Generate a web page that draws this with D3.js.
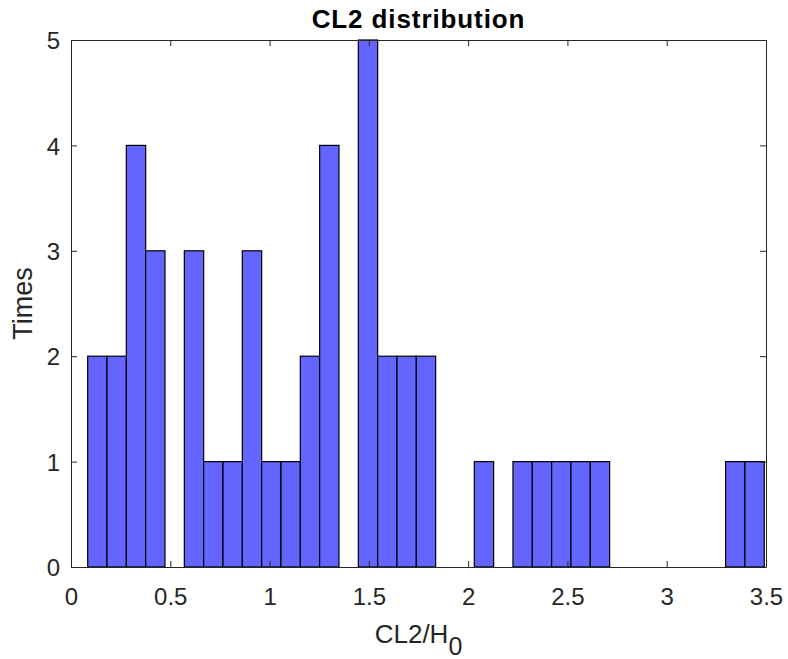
<!DOCTYPE html>
<html>
<head>
<meta charset="utf-8">
<script src="https://cdn.jsdelivr.net/npm/d3@7/dist/d3.min.js"></script>
<style>
  html, body { margin: 0; padding: 0; background: #fff; }
  svg { display: block; font-family: "Liberation Sans", Arial, Helvetica, sans-serif; }
</style>
</head>
<body>
<svg id="chart" width="788" height="659"></svg>
<script>
// ---- data ----
const titleText = "CL2 distribution";
const yLabelText = "Times";
const binStart = 0.084;
const binWidth = 0.09735;
const counts = [2, 2, 4, 3, 0, 3, 1, 1, 3, 1, 1, 2, 4, 0, 5, 2, 2, 2, 0, 0,
                1, 0, 1, 1, 1, 1, 1, 0, 0, 0, 0, 0, 0, 1, 1];
const xTicks = [0, 0.5, 1, 1.5, 2, 2.5, 3, 3.5];
const xTickLabels = ["0", "0.5", "1", "1.5", "2", "2.5", "3", "3.5"];
const yTicks = [0, 1, 2, 3, 4, 5];
const xDomain = [0, 3.5];
const yDomain = [0, 5];

(function () {
  // ---- layout ----
  const svg = d3.select("#chart");
  const L = 71, R = 766, T = 40, B = 567;
  const x = d3.scaleLinear().domain(xDomain).range([L, R]);
  const y = d3.scaleLinear().domain(yDomain).range([B, T]);
  const axisColor = "#262626";

  const bins = counts.map((c, i) => ({ x0: binStart + i * binWidth, x1: binStart + (i + 1) * binWidth, c }));

  // bars
  svg.append("g").selectAll("rect").data(bins.filter(d => d.c > 0)).join("rect")
    .attr("x", d => x(d.x0))
    .attr("y", d => y(d.c))
    .attr("width", d => x(d.x1) - x(d.x0))
    .attr("height", d => y(0) - y(d.c))
    .attr("fill", "#6464ff")
    .attr("stroke", "#000")
    .attr("stroke-width", 1.2);

  // axes (ticks inside, mirrored)
  const tl = 6;
  const gBottom = svg.append("g").attr("transform", `translate(0,${B})`)
    .call(d3.axisBottom(x).tickValues(xTicks).tickFormat((d, i) => xTickLabels[i]).tickSizeInner(-tl).tickSizeOuter(0).tickPadding(21));
  const gTop = svg.append("g").attr("transform", `translate(0,${T})`)
    .call(d3.axisTop(x).tickValues(xTicks).tickFormat("").tickSizeInner(-tl).tickSizeOuter(0));
  const gLeft = svg.append("g").attr("transform", `translate(${L},0)`)
    .call(d3.axisLeft(y).tickValues(yTicks).tickFormat(d3.format("d")).tickSizeInner(-tl).tickSizeOuter(0).tickPadding(11));
  const gRight = svg.append("g").attr("transform", `translate(${R},0)`)
    .call(d3.axisRight(y).tickValues(yTicks).tickFormat("").tickSizeInner(-tl).tickSizeOuter(0));

  [gBottom, gTop, gLeft, gRight].forEach(g => {
    g.select(".domain").attr("stroke", axisColor).attr("stroke-width", 1);
    g.selectAll(".tick line").attr("stroke", axisColor).attr("stroke-width", 1);
    g.selectAll(".tick text").attr("fill", axisColor).style("font-size", "24px")
      .style("font-family", "'Liberation Sans', Arial, sans-serif");
  });
  gLeft.selectAll(".tick text").attr("dy", "0.36em");

  // title
  svg.append("text").attr("x", (L + R) / 2).attr("y", 28)
    .attr("text-anchor", "middle").attr("font-weight", "bold")
    .attr("font-size", 26).attr("letter-spacing", 0.9).attr("fill", "#000").text(titleText);

  // x label with subscript
  const xl = svg.append("text").attr("x", (L + R) / 2).attr("y", 643)
    .attr("text-anchor", "middle").attr("font-size", 26).attr("fill", axisColor);
  xl.append("tspan").text("CL2/H");
  xl.append("tspan").attr("dy", 12).attr("font-size", 25).text("0");

  // y label
  svg.append("text").attr("transform", `translate(32,${(T + B) / 2}) rotate(-90)`)
    .attr("text-anchor", "middle").attr("font-size", 27).attr("fill", axisColor).text(yLabelText);
})();
</script>
</body>
</html>
